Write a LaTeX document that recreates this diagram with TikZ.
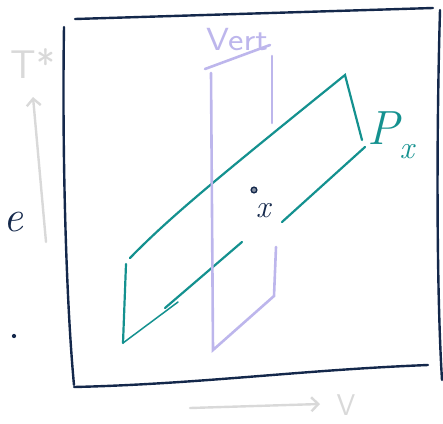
\documentclass[tikz,border=0pt]{standalone}
\usepackage{tikz}
\usetikzlibrary{arrows.meta}
\definecolor{framenavy}{HTML}{14284B}
\definecolor{planeteal}{HTML}{14918F}
\definecolor{vertlav}{HTML}{BDB6EC}
\definecolor{axisgray}{HTML}{D9D9D9}

\begin{document}
\begin{tikzpicture}[x=1pt,y=-1pt,
  frame/.style={draw=framenavy,line width=2.4pt,line cap=round,line join=round},
  plane/.style={draw=planeteal,line width=2.2pt,line cap=round},
  vert/.style={draw=vertlav,line width=2.6pt,line cap=round},
  axis/.style={draw=axisgray,line width=2.4pt,line cap=round,-{Straight Barb[length=7pt,width=14pt,line width=2.4pt]}},
  hand/.style={inner sep=0pt,text=#1}
]
\useasboundingbox (0,0) rectangle (443,423);
\draw[frame] (64,27) .. controls (62,150) and (66,300) .. (74,385);
\draw[frame] (75,19) -- (433,8);
\draw[frame] (440,10) .. controls (436,150) and (437,300) .. (442,380);
\draw[frame] (74,387) .. controls (200,384) and (300,370) .. (428,365);
\coordinate (pul) at (130,258); \coordinate (pur) at (345,75);
\coordinate (prm) at (362,140); \coordinate (plr) at (365,147);
\coordinate (pls) at (126,264); \coordinate (pll) at (123,343);
\coordinate (pa) at (282,222); \coordinate (pb) at (242,242);
\coordinate (pc) at (165,308); \coordinate (pd) at (178,302);
\draw[plane] (pul) .. controls (170,217) and (215,180) .. (pur) -- (prm);
\draw[plane] (plr) -- (pa);
\draw[plane] (pb) -- (pc);
\draw[plane] (pls) -- (pll);
\draw[plane,line width=1.5pt] (pll) -- (pd);
\coordinate (vul) at (205,69); \coordinate (vur) at (270,45);
\coordinate (vlt) at (211,73); \coordinate (vlb) at (213,350);
\coordinate (vrt) at (272,56); \coordinate (vrm) at (272,123);
\coordinate (vrl) at (276,247); \coordinate (vrb) at (274,296);
\draw[vert] (vul) -- (vur);
\draw[vert] (vlt) -- (vlb) -- (vrb) -- (vrl);
\draw[vert] (vrt) -- (vrm);
\coordinate (tbase) at (46,242); \coordinate (ttip) at (33,97);
\coordinate (vbase) at (190,408); \coordinate (vtip) at (320,404);
\draw[axis] (tbase) -- (ttip);
\draw[axis] (vbase) -- (vtip);
\node[hand=vertlav,font=\sffamily\fontsize{32}{32}\selectfont,xscale=1.15] (vertlabel) at (237,40) {Vert};
\node[hand=axisgray,font=\sffamily\fontsize{40}{40}\selectfont] (tstar) at (33,64) {T*};
\node[hand=axisgray,font=\sffamily\fontsize{30}{30}\selectfont] (vlabel) at (346,405) {V};
\node[hand=planeteal,font=\itshape\fontsize{48}{48}\selectfont] (pxlabel) at (391,135) {P\raisebox{-0.3em}{\fontsize{32}{32}\selectfont x}};
\node[circle,draw=framenavy,fill=framenavy!50,line width=1.4pt,inner sep=2pt] (ptx) at (254,190) {};
\node[hand=framenavy,font=\itshape\fontsize{32}{32}\selectfont] (xlabel) at (263,211) {x};
\node[hand=framenavy,font=\itshape\fontsize{44}{44}\selectfont,anchor=east] (edge) at (24,222) {e};
\node[circle,fill=framenavy,inner sep=1.5pt] (dot) at (14,336) {};
\end{tikzpicture}
\end{document}
